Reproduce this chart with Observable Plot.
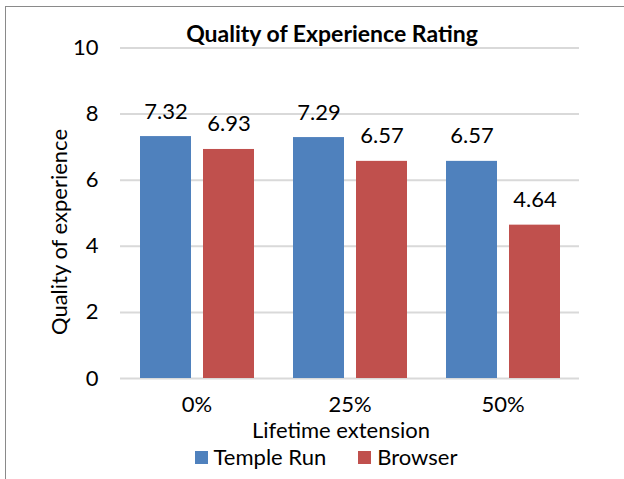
<!DOCTYPE html>
<html>
<head>
<meta charset="utf-8">
<script src="https://cdn.jsdelivr.net/npm/d3@7"></script>
<script src="https://cdn.jsdelivr.net/npm/@observablehq/plot@0.6"></script>
<style>
  body { margin: 0; background: #fff; overflow: hidden; }
  #chart { position: relative; width: 624px; height: 479px; overflow: hidden; font-family: Lato, "Liberation Sans", sans-serif; color: #000; }
  #frame { position: absolute; left: 5px; top: 6px; width: 700px; height: 600px; border-left: 1.5px solid #8a8a8a; border-top: 1.5px solid #8a8a8a; }
  #plot { position: absolute; left: 0; top: 0; }
  #title { position: absolute; left: 32px; width: 600px; top: 19px; text-align: center; font-weight: bold; font-size: 23px; line-height: 28px; }
  #ylabel { position: absolute; left: 59px; top: 232px; transform: translate(-50%, -50%) rotate(-90deg); white-space: nowrap; font-size: 22px; line-height: 26px; }
  #xlabel { position: absolute; left: 41px; width: 600px; top: 417px; text-align: center; font-size: 22px; line-height: 26px; }
  #legend { position: absolute; left: 26px; width: 600px; top: 444px; display: flex; justify-content: center; align-items: center; font-size: 22px; line-height: 26px; }
  .item { display: flex; align-items: center; margin: 0 16px; }
  .swatch { width: 13px; height: 13px; margin-right: 6px; }
</style>
</head>
<body>
<div id="chart">
  <div id="frame"></div>
  <div id="plot"></div>
  <div id="title">Quality of Experience Rating</div>
  <div id="ylabel">Quality of experience</div>
  <div id="xlabel">Lifetime extension</div>
  <div id="legend"></div>
</div>
<script>
// Lifetime extension levels and the two workloads compared
const groups = ["0%", "25%", "50%"];
const series = ["Temple Run", "Browser"];
const colors = ["#4F81BD", "#C0504D"];
// Mean quality-of-experience rating per workload
const templeRun = [7.32, 7.29, 6.57];
const browser = [6.93, 6.57, 4.64];
const yTicks = [0, 2, 4, 6, 8, 10];

const rows = [];
groups.forEach((g, i) => {
  rows.push({group: g, series: series[0], value: templeRun[i]});
  rows.push({group: g, series: series[1], value: browser[i]});
});

const chart = Plot.plot({
  width: 624,
  height: 479,
  marginTop: 47.5,
  marginBottom: 101,
  marginLeft: 119,
  marginRight: 45,
  style: {fontFamily: "Lato, 'Liberation Sans', sans-serif", fontSize: "22px", color: "#000", background: "transparent"},
  fx: {domain: groups, padding: 0, tickSize: 0, tickPadding: 18, label: null, axis: "bottom"},
  x: {domain: series, axis: null, paddingInner: 0.197, paddingOuter: 0.309},
  y: {domain: [0, 10], ticks: yTicks, tickSize: 0, tickPadding: 22, label: null},
  color: {domain: series, range: colors},
  marks: [
    Plot.gridY(yTicks, {stroke: "#d9d9d9", strokeOpacity: 1, strokeWidth: 2}),
    Plot.barY(rows, {fx: "group", x: "series", y: "value", fill: "series"}),
    Plot.text(rows, {fx: "group", x: "series", y: "value", text: d => d.value.toFixed(2), lineAnchor: "bottom", dy: -18, fontSize: 22, fill: "#000"})
  ]
});
document.getElementById("plot").appendChild(chart);

// Legend
const legend = document.getElementById("legend");
series.forEach((s, i) => {
  const item = document.createElement("div");
  item.className = "item";
  const sw = document.createElement("div");
  sw.className = "swatch";
  sw.style.background = colors[i];
  const label = document.createElement("span");
  label.textContent = s;
  item.appendChild(sw);
  item.appendChild(label);
  legend.appendChild(item);
});
</script>
</body>
</html>
